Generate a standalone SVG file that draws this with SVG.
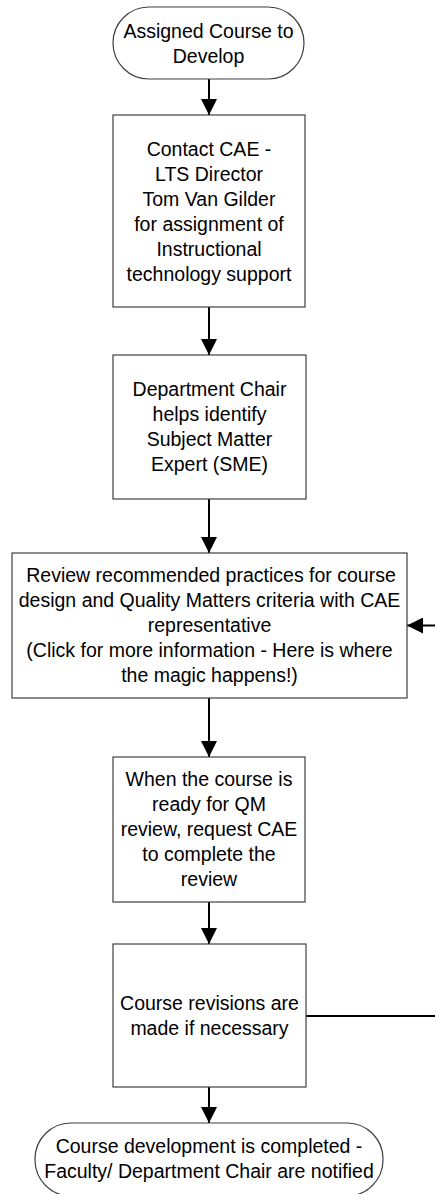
<svg xmlns="http://www.w3.org/2000/svg" width="435" height="1194" viewBox="0 0 435 1194">
<style>
.shape{fill:#fff;stroke:#404040;stroke-width:1.2}
.conn{fill:none;stroke:#000;stroke-width:2}
text{font-family:"Liberation Sans",Arial,sans-serif;font-size:19.5px;fill:#000;text-anchor:middle}
</style>
<defs>
<marker id="ah" markerUnits="userSpaceOnUse" markerWidth="16" markerHeight="16" refX="16" refY="8" orient="auto" viewBox="0 0 16 16">
<path d="M0,0 L16,8 L0,16 z" fill="#000"/>
</marker>
</defs>
<rect width="435" height="1194" fill="#fff"/>
<g id="connectors">
<line class="conn" x1="209" y1="79" x2="209" y2="115" marker-end="url(#ah)"/>
<line class="conn" x1="209" y1="307" x2="209" y2="355" marker-end="url(#ah)"/>
<line class="conn" x1="209" y1="499" x2="209" y2="553" marker-end="url(#ah)"/>
<line class="conn" x1="209" y1="698" x2="209" y2="757" marker-end="url(#ah)"/>
<line class="conn" x1="209" y1="902" x2="209" y2="944" marker-end="url(#ah)"/>
<line class="conn" x1="209" y1="1087" x2="209" y2="1123" marker-end="url(#ah)"/>
<polyline class="conn" points="306,1016 445,1016 445,625.5 407,625.5" marker-end="url(#ah)"/>
</g>
<g id="start">
<rect class="shape" x="113" y="7" width="191" height="72" rx="36" ry="36"/>
<text x="208.5" y="37.5">Assigned Course to</text>
<text x="208.5" y="62.5">Develop</text>
</g>
<g id="contact">
<rect class="shape" x="113" y="115" width="192" height="192"/>
<text x="209" y="155.5">Contact CAE -</text>
<text x="209" y="180.5">LTS Director</text>
<text x="209" y="205.5">Tom Van Gilder</text>
<text x="209" y="230.5">for assignment of</text>
<text x="209" y="255.5">Instructional</text>
<text x="209" y="280.5">technology support</text>
</g>
<g id="chair">
<rect class="shape" x="113" y="355" width="193" height="144"/>
<text x="209.5" y="396">Department Chair</text>
<text x="209.5" y="421">helps identify</text>
<text x="209.5" y="446">Subject Matter</text>
<text x="209.5" y="471">Expert (SME)</text>
</g>
<g id="review">
<rect class="shape" x="12" y="553" width="395" height="145"/>
<text x="211" y="582">Review recommended practices for course</text>
<text x="209.5" y="607">design and Quality Matters criteria with CAE</text>
<text x="209.5" y="632">representative</text>
<text x="209.5" y="657">(Click for more information - Here is where</text>
<text x="209.5" y="682">the magic happens!)</text>
</g>
<g id="qm">
<rect class="shape" x="113" y="757" width="192" height="145"/>
<text x="209" y="785.5">When the course is</text>
<text x="209" y="810.5">ready for QM</text>
<text x="209" y="835.5">review, request CAE</text>
<text x="209" y="860.5">to complete the</text>
<text x="209" y="885.5">review</text>
</g>
<g id="revisions">
<rect class="shape" x="113" y="944" width="193" height="143"/>
<text x="209.5" y="1009.5">Course revisions are</text>
<text x="209.5" y="1034.5">made if necessary</text>
</g>
<g id="end">
<rect class="shape" x="35" y="1123" width="348" height="73" rx="36" ry="36"/>
<text x="209" y="1153">Course development is completed -</text>
<text x="209" y="1178">Faculty/ Department Chair are notified</text>
</g>
</svg>
